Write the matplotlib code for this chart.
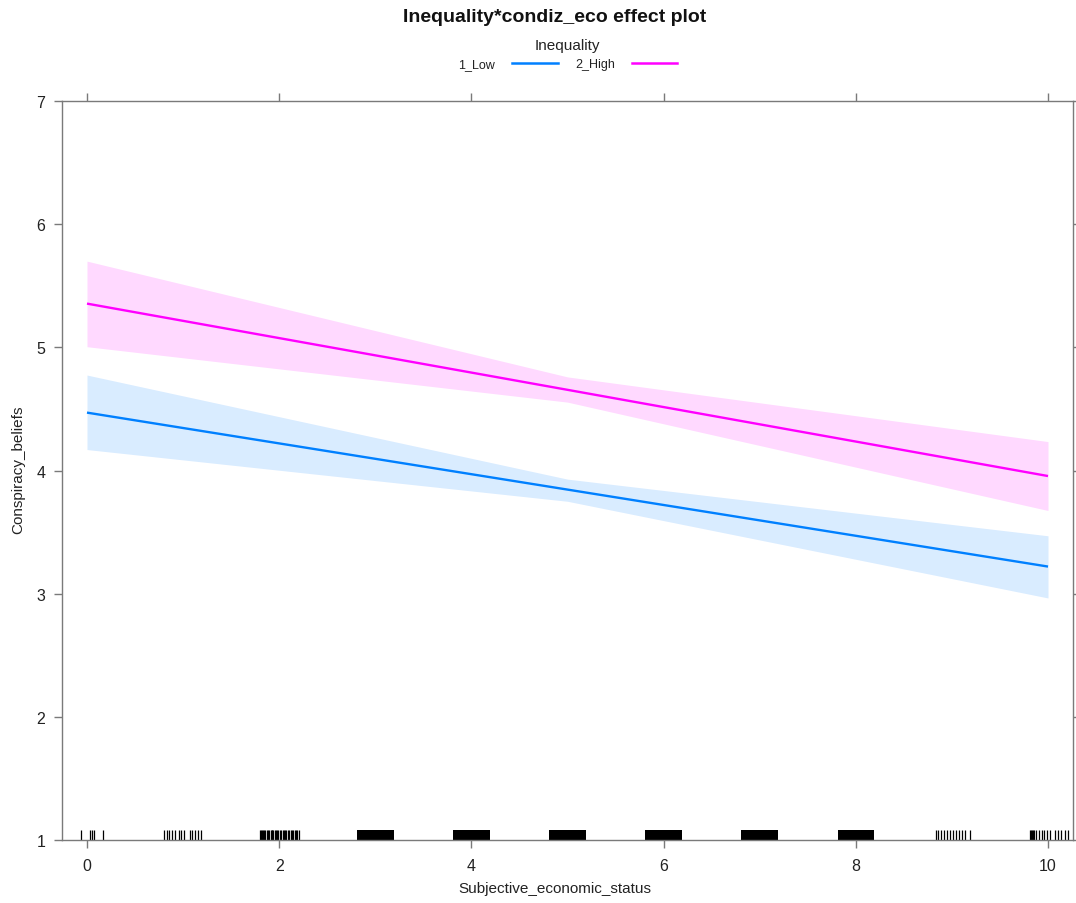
import matplotlib
matplotlib.use("Agg")
import matplotlib.pyplot as plt
from matplotlib.lines import Line2D
import numpy as np

plt.rcParams['font.family'] = ['Liberation Sans', 'DejaVu Sans']

# Fitted effect of subjective economic status by inequality condition
x_eval = [0, 5, 10]
groups = ["1_Low", "2_High"]
fit_low = [4.47, 3.845, 3.22]
lower_low = [4.17, 3.75, 2.965]
upper_low = [4.775, 3.93, 3.47]
fit_high = [5.355, 4.655, 3.955]
lower_high = [5.005, 4.555, 3.675]
upper_high = [5.70, 4.76, 4.235]
colors = ["#0080ff", "#ff00ff"]

# Observed values of the predictor (jittered rug)
rug_single = [-0.062, 0.031, 0.055, 0.076, 0.170,
              0.804, 0.829, 0.857, 0.888, 0.916, 0.957, 0.978, 1.012,
              1.072, 1.096, 1.124, 1.158, 1.186,
              1.80, 1.81, 1.82, 1.83, 1.84, 1.85, 1.87, 1.88, 1.89,
              1.91, 1.92, 1.93, 1.94, 1.96, 1.97, 1.98, 1.99, 2.01, 2.02,
              2.04, 2.05, 2.06, 2.07, 2.09, 2.10, 2.12, 2.13, 2.14, 2.16,
              2.18, 2.19, 2.21,
              8.83, 8.86, 8.89, 8.92, 8.95, 8.98, 9.01, 9.04, 9.07, 9.11,
              9.14, 9.19,
              9.81, 9.82, 9.83, 9.84, 9.85, 9.88, 9.91, 9.94, 9.96, 9.99,
              10.02, 10.07, 10.10, 10.14, 10.18, 10.21]
# Spans where rug marks overlap into a solid band
rug_dense = [(2.81, 3.19), (3.81, 4.19), (4.81, 5.19),
             (5.81, 6.19), (6.81, 7.19), (7.81, 8.19)]

x_ticks = [0, 2, 4, 6, 8, 10]
y_ticks = [1, 2, 3, 4, 5, 6, 7]

W, H = 1076, 904
fig = plt.figure(figsize=(W / 100, H / 100), dpi=100)
ax = fig.add_axes([62 / W, 1 - 841 / H, (1073 - 62) / W, (841 - 102) / H])

series = [(fit_low, lower_low, upper_low), (fit_high, lower_high, upper_high)]
for (fit, lo, hi), col in zip(series, colors):
    ax.fill_between(x_eval, lo, hi, color=col, alpha=0.15, linewidth=0)
for (fit, lo, hi), col in zip(series, colors):
    ax.plot(x_eval, fit, color=col, linewidth=1.7, solid_capstyle='butt')

rug_h = 10 / (841 - 102)
ax.vlines(rug_single, 0, rug_h, transform=ax.get_xaxis_transform(),
          colors="black", linewidth=0.9)
ax.broken_barh([(a, b - a) for a, b in rug_dense], (0, rug_h),
               transform=ax.get_xaxis_transform(), facecolors="black",
               edgecolors="none")

ax.set_xlim(-0.26, 10.26)
ax.set_ylim(1, 7)
ax.set_xticks(x_ticks)
ax.set_yticks(y_ticks)
ax.set_xticklabels([str(v) for v in x_ticks])
ax.set_yticklabels([str(v) for v in y_ticks])

spine_col = "#7a7a7a"
for s in ax.spines.values():
    s.set_color(spine_col)
    s.set_linewidth(1.0)
ax.tick_params(axis='both', which='both', direction='out', length=6,
               width=1.0, color=spine_col, labelcolor="#222222",
               labelsize=11.5, top=True, right=True,
               labeltop=False, labelright=False)
ax.tick_params(axis='x', pad=7)
ax.tick_params(axis='y', pad=6)

# Title, key and axis labels
fig.text(555 / W, 1 - 17 / H, "Inequality*condiz_eco effect plot",
         ha="center", va="center", fontsize=14, fontweight="bold",
         color="#111111")
fig.text(567 / W, 1 - 46 / H, "Inequality", ha="center", va="center",
         fontsize=11, color="#222222")
key_text_x = [495, 615]
key_line_x = [(512, 558), (632, 677)]
for lab, tx, (l0, l1), col in zip(groups, key_text_x, key_line_x, colors):
    fig.text(tx / W, 1 - 65 / H, lab, ha="right", va="center",
             fontsize=9, color="#222222")
    fig.add_artist(Line2D([l0 / W, l1 / W], [1 - 63.5 / H, 1 - 63.5 / H],
                          transform=fig.transFigure, color=col,
                          linewidth=1.8))

fig.text(555 / W, 1 - 889 / H, "Subjective_economic_status",
         ha="center", va="center", fontsize=11, color="#222222")
fig.text(18 / W, 1 - 470 / H, "Conspiracy_beliefs", ha="center",
         va="center", rotation=90, fontsize=11, color="#222222")

fig.savefig("out.png", dpi=100, facecolor="white")
